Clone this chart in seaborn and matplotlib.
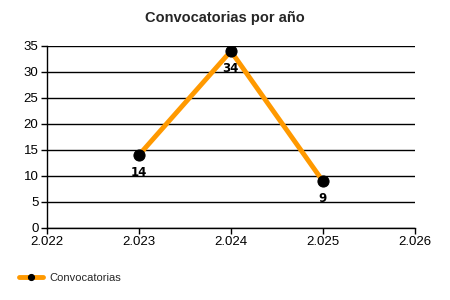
import matplotlib
matplotlib.use("Agg")
import matplotlib.pyplot as plt
import seaborn as sns
import pandas as pd
from matplotlib.ticker import FuncFormatter, MultipleLocator

years = [2023, 2024, 2025]
convocatorias = [14, 34, 9]
series_name = "Convocatorias"
title = "Convocatorias por año"

df = pd.DataFrame({"year": years, "value": convocatorias})

sns.set_theme(style="white")
plt.rcParams["font.family"] = ["Liberation Sans", "DejaVu Sans"]

fig = plt.figure(figsize=(4.5, 3), dpi=100)
ax = fig.add_axes([0.104, 0.24, 0.818, 0.607])

sns.lineplot(data=df, x="year", y="value", ax=ax, color="#FF9900", linewidth=3.5,
             marker="o", markersize=8, markerfacecolor="black", markeredgecolor="black",
             label=series_name, legend=False)

for x, y in zip(years, convocatorias):
    ax.annotate(str(y), (x, y), xytext=(0, -17), textcoords="offset pixels",
                ha="center", va="center", fontsize=8.5, fontweight="bold", color="black",
                family=["DejaVu Sans"])

ax.set_xlim(2022, 2026)
ax.set_ylim(0, 35)
ax.xaxis.set_major_locator(MultipleLocator(1))
ax.yaxis.set_major_locator(MultipleLocator(5))
ax.xaxis.set_major_formatter(FuncFormatter(lambda v, p: f"{int(round(v)):,}".replace(",", ".")))
ax.yaxis.grid(True, color="black", linewidth=1)
ax.xaxis.grid(False)
ax.set_axisbelow(True)
for s in ["top", "right"]:
    ax.spines[s].set_visible(False)
for s in ["left", "bottom"]:
    ax.spines[s].set_color("black")
    ax.spines[s].set_linewidth(1)
ax.tick_params(axis="both", which="major", length=4, width=1, color="black",
               labelsize=9.5, labelcolor="black", bottom=True, left=True, pad=2)
ax.set_xlabel("")
ax.set_ylabel("")

fig.text(0.5, 0.94, title, ha="center", va="center", fontsize=10.5, fontweight="bold")

handles, labels = ax.get_legend_handles_labels()
fig.legend(handles, labels, loc="center left", bbox_to_anchor=(0.02, 0.073), frameon=False,
           fontsize=8, handlelength=2.2, handletextpad=0.5, markerscale=0.55)

fig.savefig("out.png", dpi=100)
